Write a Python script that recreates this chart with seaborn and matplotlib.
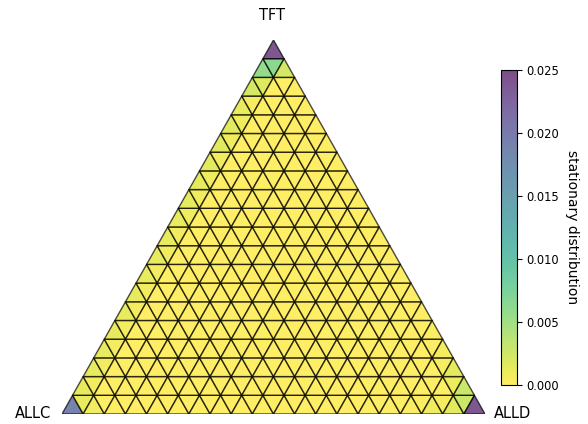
import numpy as np
import matplotlib
matplotlib.use("Agg")
import matplotlib.pyplot as plt
import matplotlib.tri as mtri
import seaborn as sns

sns.set_theme(style="white")
plt.rcParams["font.family"] = ["DejaVu Sans"]
plt.rcParams.update({"text.color": "black", "axes.labelcolor": "black",
                     "xtick.color": "black", "ytick.color": "black",
                     "axes.edgecolor": "black"})

# Population size: each vertex is a state (n_ALLC, n_TFT, n_ALLD) summing to Z
Z = 20
strategies = ["ALLC", "TFT", "ALLD"]

# Stationary probability of the monomorphic states
corner_values = {"ALLC": 0.0540, "TFT": 0.0530, "ALLD": 0.0636}

# Edge ALLC-TFT, indexed by number of TFT players 1..19
edge_allc_tft = [0.0018, 0.0018, 0.0018, 0.0018, 0.0018, 0.0018, 0.0019,
                 0.0019, 0.0020, 0.0020, 0.0021, 0.0021, 0.0022, 0.0023,
                 0.0024, 0.0025, 0.0015, 0.0055, 0.0120]
# Edge ALLC-ALLD, indexed by number of ALLD players 1..19
edge_allc_alld = [0.0018, 0.0002, 0.0, 0.0, 0.0, 0.0, 0.0, 0.0, 0.0, 0.0,
                  0.0, 0.0, 0.0, 0.0, 0.0, 0.0002, 0.0006, 0.0015, 0.0030]
# Edge ALLD-TFT, indexed by number of TFT players 1..19
edge_alld_tft = [0.0054, 0.0030, 0.0012, 0.0004, 0.0, 0.0, 0.0, 0.0, 0.0,
                 0.0, 0.0, 0.0, 0.0, 0.0, 0.0, 0.0, 0.0, 0.0, 0.0070]

# Assemble lattice of states
states = [(a, t, Z - a - t) for t in range(Z + 1) for a in range(Z - t, -1, -1)]
index = {s: i for i, s in enumerate(states)}
values = np.zeros(len(states))
values[index[(Z, 0, 0)]] = corner_values["ALLC"]
values[index[(0, Z, 0)]] = corner_values["TFT"]
values[index[(0, 0, Z)]] = corner_values["ALLD"]
for k in range(1, Z):
    values[index[(Z - k, k, 0)]] = edge_allc_tft[k - 1]
    values[index[(Z - k, 0, k)]] = edge_allc_alld[k - 1]
    values[index[(0, k, Z - k)]] = edge_alld_tft[k - 1]

h = np.sqrt(3) / 2
xs = np.array([(d + t / 2) / Z for a, t, d in states])
ys = np.array([t / Z * h for a, t, d in states])

# Triangles of the simplex grid (upward and downward)
tris = []
for t in range(Z):
    for d in range(Z - t):
        a = Z - t - d
        tris.append([index[(a, t, d)], index[(a - 1, t, d + 1)], index[(a - 1, t + 1, d)]])
        if d < Z - t - 1:
            tris.append([index[(a - 1, t, d + 1)], index[(a - 2, t + 1, d + 1)],
                         index[(a - 1, t + 1, d)]])
triang = mtri.Triangulation(xs, ys, np.array(tris))

cmap = sns.color_palette("viridis_r", as_cmap=True)

fig = plt.figure(figsize=(5.88, 4.24), dpi=100)
ax = fig.add_axes([62 / 588, 10 / 424, 423 / 588, 374 / 424])
pc = ax.tripcolor(triang, values, shading="flat", cmap=cmap, vmin=0, vmax=0.025,
                  alpha=0.7, edgecolors="black", linewidth=1.0)
ax.set_xlim(0, 1)
ax.set_ylim(0, h)
ax.axis("off")

fig.text(272 / 588, 1 - 15 / 424, "TFT", ha="center", va="center", fontsize=10.5)
fig.text(33 / 588, 1 - 413 / 424, "ALLC", ha="center", va="center", fontsize=10.5)
fig.text(513 / 588, 1 - 413 / 424, "ALLD", ha="center", va="center", fontsize=10.5)

cax = fig.add_axes([501 / 588, 39 / 424, 16 / 588, 315 / 424])
cb = fig.colorbar(pc, cax=cax, ticks=[0, 0.005, 0.010, 0.015, 0.020, 0.025])
cb.ax.set_yticklabels([f"{v:.3f}" for v in [0, 0.005, 0.010, 0.015, 0.020, 0.025]])
cb.ax.tick_params(labelsize=8.3, length=3.5, width=0.8)
cb.outline.set_linewidth(0.8)
cb.set_label("stationary distribution", rotation=270, labelpad=14, fontsize=10)

fig.savefig("out.png", dpi=100)
